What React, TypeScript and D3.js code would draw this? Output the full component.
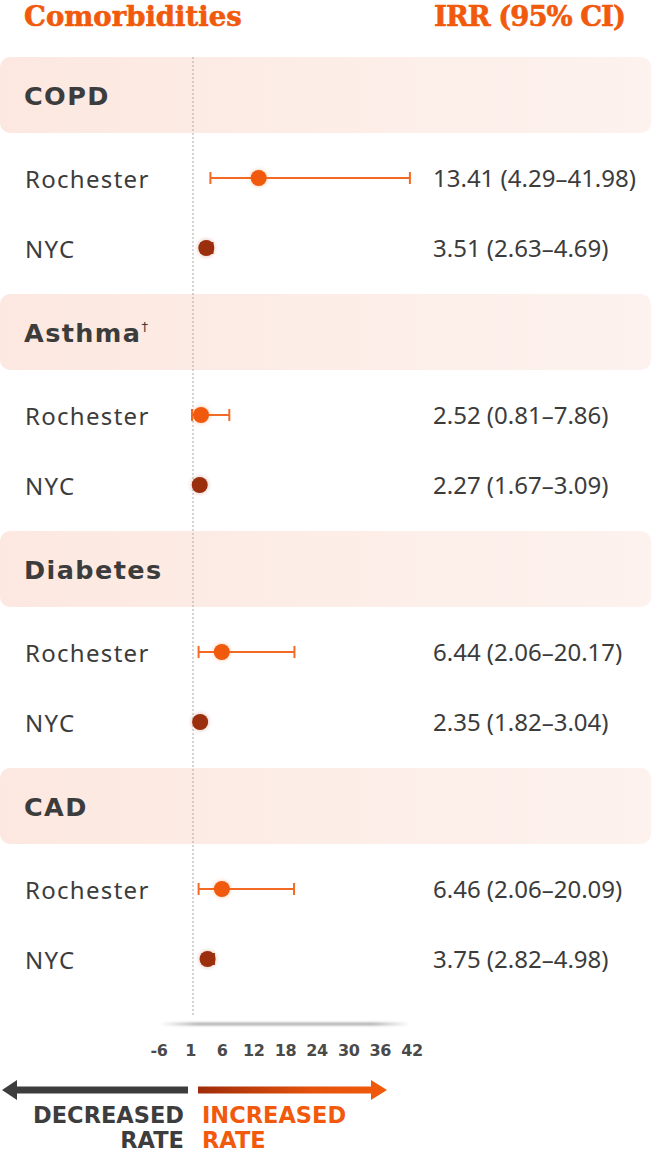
import * as d3 from "d3";

interface Row {
  group: string;
  site: string;
  irr: number;
  lo: number;
  hi: number;
}

const groups = ["COPD", "Asthma", "Diabetes", "CAD"];
const groupNotes = ["", "†", "", ""];
const sites = ["Rochester", "NYC"];

// IRR, lower CI, upper CI — per group, Rochester then NYC
const irrValues = [13.41, 3.51, 2.52, 2.27, 6.44, 2.35, 6.46, 3.75];
const loValues = [4.29, 2.63, 0.81, 1.67, 2.06, 1.82, 2.06, 2.82];
const hiValues = [41.98, 4.69, 7.86, 3.09, 20.17, 3.04, 20.09, 4.98];

const tickLabels = ["-6", "1", "6", "12", "18", "24", "30", "36", "42"];

const W = 651;
const H = 1158;
const ORANGE = "#f15a0c";
const DARK_RED = "#9b2d0b";
const TEXT = "#3c3c3c";

const rows: Row[] = irrValues.map((v, i) => ({
  group: groups[Math.floor(i / 2)],
  site: sites[i % 2],
  irr: v,
  lo: loValues[i],
  hi: hiValues[i],
}));

const fmt = (r: Row) =>
  `${r.irr.toFixed(2)} (${r.lo.toFixed(2)}–${r.hi.toFixed(2)})`;

export default function App() {
  const x = d3.scaleLinear().domain([1, 42]).range([193, 410]);
  const tickX = d3.scalePoint<string>().domain(tickLabels).range([159, 412]);

  // vertical layout: each group is a band followed by two site rows
  const groupY = d3.scaleLinear().domain([0, 1]).range([57, 294]);
  const bandH = 76;
  const siteOffset = [121, 191];

  const sans = "'Noto Sans', sans-serif";
  const bold = "'DejaVu Sans', sans-serif";

  return (
    <svg
      width={W}
      height={H}
      style={{ position: "absolute", left: 0, top: 0, background: "#fff" }}
    >
      <defs>
        <linearGradient id="band" x1="0" x2="1" y1="0" y2="0">
          <stop offset="0%" stopColor="#fce8e0" />
          <stop offset="100%" stopColor="#fdf2ee" />
        </linearGradient>
        <linearGradient id="axisLine" x1="0" x2="1" y1="0" y2="0">
          <stop offset="0%" stopColor="#999" stopOpacity={0} />
          <stop offset="15%" stopColor="#999" stopOpacity={0.8} />
          <stop offset="85%" stopColor="#999" stopOpacity={0.8} />
          <stop offset="100%" stopColor="#999" stopOpacity={0} />
        </linearGradient>
        <linearGradient id="incArrow" x1="0" x2="1" y1="0" y2="0">
          <stop offset="0%" stopColor="#9e2c0a" />
          <stop offset="60%" stopColor="#e4520c" />
          <stop offset="100%" stopColor="#f25a0b" />
        </linearGradient>
        <filter id="glow" x="-1" y="-1" width="3" height="3">
          <feGaussianBlur in="SourceGraphic" stdDeviation="2.2" result="b" />
          <feColorMatrix
            in="b"
            type="matrix"
            values="1 0 0 0 0  0 1 0 0 0  0 0 1 0 0  0 0 0 0.35 0"
            result="s"
          />
          <feMerge>
            <feMergeNode in="s" />
            <feMergeNode in="SourceGraphic" />
          </feMerge>
        </filter>
        <filter id="soft" x="-0.1" y="-2" width="1.2" height="5">
          <feGaussianBlur stdDeviation="1" />
        </filter>
      </defs>

      {/* headers */}
      <text
        x={24}
        y={26}
        fill={ORANGE}
        fontFamily="'DejaVu Serif', serif"
        fontWeight="bold"
        fontSize={27.5}
        stroke={ORANGE}
        strokeWidth={0.6}
      >
        Comorbidities
      </text>
      <text
        x={625}
        y={26}
        textAnchor="end"
        fill={ORANGE}
        fontFamily="'DejaVu Serif', serif"
        fontWeight="bold"
        fontSize={27.5}
        letterSpacing={-1}
        stroke={ORANGE}
        strokeWidth={0.6}
      >
        IRR (95% CI)
      </text>

      {/* group bands */}
      {groups.map((g, gi) => (
        <g key={g}>
          <rect
            x={0}
            y={groupY(gi)}
            width={W}
            height={bandH}
            rx={10}
            fill="url(#band)"
          />
          <text
            x={24}
            y={groupY(gi) + bandH / 2 + 1}
            dominantBaseline="central"
            fill={TEXT}
            fontFamily={bold}
            fontWeight="bold"
            fontSize={25.5}
            letterSpacing={1.4}
          >
            {g}
            {groupNotes[gi] && (
              <tspan fontSize={13} dy={-7} fontWeight="normal">
                {groupNotes[gi]}
              </tspan>
            )}
          </text>
        </g>
      ))}

      {/* reference line at IRR = 1 */}
      <line
        x1={x(1)}
        x2={x(1)}
        y1={57}
        y2={1015}
        stroke="#aaa"
        strokeWidth={1}
        strokeDasharray="2,2"
      />

      {/* rows */}
      {rows.map((r, i) => {
        const gi = Math.floor(i / 2);
        const y = groupY(gi) + siteOffset[i % 2];
        const c = r.site === "NYC" ? DARK_RED : ORANGE;
        return (
          <g key={`${r.group}-${r.site}`}>
            <text
              x={25}
              y={y}
              dominantBaseline="central"
              fill={TEXT}
              fontFamily={sans}
              fontSize={24}
              letterSpacing={1.3}
            >
              {r.site}
            </text>
            <g stroke={c} strokeWidth={2} opacity={0.9}>
              <line x1={x(r.lo)} x2={x(r.hi)} y1={y} y2={y} />
              <line x1={x(r.lo)} x2={x(r.lo)} y1={y - 6} y2={y + 6} />
              <line x1={x(r.hi)} x2={x(r.hi)} y1={y - 6} y2={y + 6} />
            </g>
            <circle cx={x(r.irr)} cy={y} r={8} fill={c} filter="url(#glow)" />
            <text
              x={433}
              y={y - 1}
              dominantBaseline="central"
              fill={TEXT}
              fontFamily={sans}
              fontSize={24}
              letterSpacing={0}
            >
              {fmt(r)}
            </text>
          </g>
        );
      })}

      {/* axis */}
      <rect
        x={160}
        y={1022.5}
        width={250}
        height={3}
        fill="url(#axisLine)"
        filter="url(#soft)"
      />
      {tickLabels.map((t) => (
        <text
          key={t}
          x={tickX(t)}
          y={1050}
          textAnchor="middle"
          dominantBaseline="central"
          fill="#4a4a4a"
          fontFamily={bold}
          fontWeight="bold"
          fontSize={16}
          letterSpacing={-0.3}
        >
          {t}
        </text>
      ))}

      {/* direction arrows */}
      <path
        d="M2,1090 L17,1080 L17,1086.5 L188,1086.5 L188,1093.5 L17,1093.5 L17,1100 Z"
        fill="#3d3d3d"
      />
      <path
        d="M198,1086.5 L371,1086.5 L371,1080 L387,1090 L371,1100 L371,1093.5 L198,1093.5 Z"
        fill="url(#incArrow)"
      />
      <g fontFamily={bold} fontWeight="bold" fontSize={22.5}>
        <text x={184} y={1123} textAnchor="end" fill="#3d3d3d">
          DECREASED
        </text>
        <text x={184} y={1148} textAnchor="end" fill="#3d3d3d">
          RATE
        </text>
        <text x={202} y={1123} fill={ORANGE}>
          INCREASED
        </text>
        <text x={202} y={1148} fill={ORANGE}>
          RATE
        </text>
      </g>
    </svg>
  );
}
